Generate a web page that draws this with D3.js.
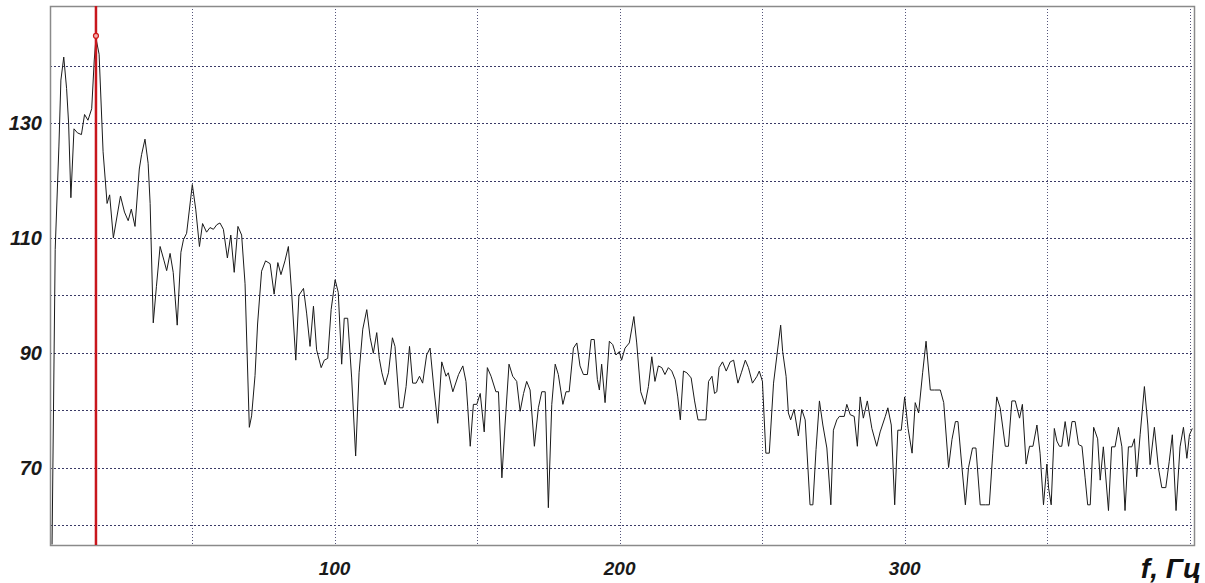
<!DOCTYPE html>
<html>
<head>
<meta charset="utf-8">
<script src="https://cdn.jsdelivr.net/npm/d3@7"></script>
<style>
  body { margin: 0; background: #fff; }
  svg { display: block; }
</style>
</head>
<body>
<div id="chart"></div>
<script>
// Canvas size
const width = 1205;
const height = 583;

// Spectrum vertices (Hz, level)
const freqs = [0.9, 2.0, 3.3, 4.0, 5.0, 6.0, 6.7, 7.5, 8.6, 9.8, 11.2, 12.3, 13.5, 14.8, 15.7, 16.3, 17.4, 18.8, 20.2, 21.1,
  22.4, 24.9, 26.3, 27.6, 28.7, 30.0, 31.5, 32.3, 33.5, 34.6, 35.3, 36.4, 37.5, 38.8, 40.2, 41.1, 42.3, 43.4, 44.8, 46.1,
  47.0, 48.1, 50.1, 51.3, 52.6, 53.7, 55.1, 56.3, 57.5, 58.7, 59.8, 61.0, 62.4, 63.6, 64.8, 66.1, 67.4, 68.6, 70.1, 70.9,
  72.1, 73.0, 74.4, 75.8, 77.4, 78.8, 80.1, 81.2, 82.6, 83.8, 85.0, 86.4, 87.5, 89.1, 90.2, 91.4, 92.6, 93.7, 95.3, 96.4,
  97.6, 98.8, 100.2, 101.3, 102.5, 103.4, 104.6, 106.0, 107.4, 108.6, 109.9, 111.3, 112.5, 113.6, 114.8, 115.7, 116.6, 117.7, 118.9, 120.3,
  121.2, 122.8, 124.0, 125.1, 126.3, 127.4, 128.6, 129.8, 130.9, 132.3, 133.5, 134.9, 136.2, 137.6, 139.1, 139.9, 141.5, 143.5, 145.0, 146.1,
  146.7, 147.6, 148.7, 149.9, 151.1, 152.5, 153.6, 154.9, 156.6, 157.5, 158.7, 159.8, 161.2, 162.5, 163.9, 165.1, 166.3, 167.4, 168.6, 170.1,
  171.5, 172.7, 173.9, 175.0, 176.2, 177.4, 178.5, 180.1, 181.2, 182.3, 183.8, 185.0, 186.1, 187.3, 188.7, 190.0, 191.1, 192.2, 192.9, 193.7,
  194.9, 196.4, 197.6, 198.7, 199.9, 200.7, 201.9, 203.4, 205.0, 206.0, 207.4, 208.9, 210.1, 211.3, 212.4, 213.6, 214.8, 215.9, 217.1, 218.3,
  219.5, 220.4, 221.3, 222.4, 223.6, 225.1, 226.3, 227.5, 228.9, 230.3, 231.2, 232.4, 233.3, 234.1, 234.9, 236.1, 237.4, 238.8, 240.0, 241.5,
  242.7, 244.1, 245.2, 246.6, 248.2, 249.0, 250.1, 251.3, 252.5, 254.0, 255.2, 256.5, 257.2, 258.4, 259.2, 260.0, 261.2, 262.7, 263.9, 265.1,
  266.8, 267.8, 268.9, 270.1, 271.3, 272.7, 274.1, 275.0, 276.2, 277.1, 278.8, 279.7, 280.9, 282.3, 283.4, 284.4, 285.5, 286.9, 288.5, 290.2,
  291.4, 293.2, 294.1, 295.3, 296.5, 297.6, 298.8, 300.0, 301.2, 302.6, 303.7, 304.9, 306.3, 307.5, 309.0, 310.5, 312.5, 313.7, 315.4, 316.6,
  317.8, 318.7, 320.1, 321.3, 322.4, 323.8, 325.0, 326.5, 328.3, 329.7, 330.9, 332.3, 333.5, 335.3, 336.4, 337.6, 338.8, 340.3, 341.3, 342.6,
  343.8, 345.0, 346.4, 347.5, 348.7, 349.9, 350.5, 351.4, 352.5, 353.4, 354.3, 355.1, 356.3, 357.5, 358.7, 359.8, 361.0, 362.2, 363.3, 364.2,
  365.1, 366.3, 367.7, 368.6, 369.7, 371.5, 372.6, 373.8, 375.0, 376.2, 377.3, 378.5, 379.7, 380.6, 381.4, 382.6, 384.1, 385.3, 386.1, 387.6,
  389.0, 390.2, 391.6, 392.8, 393.9, 395.2, 396.6, 397.8, 399.0, 399.9, 400.9];

const levels = [56.6, 108, 126, 137.5, 141.5, 136, 130, 117, 129, 128.3, 128, 131.5, 130.5, 132.5, 141, 144.8, 142, 125, 116, 117.5,
  110, 117.3, 114.5, 113, 115, 112, 122, 124.5, 127.2, 123, 116, 95.2, 101.5, 108.5, 106, 104.3, 107.3, 104, 94.8, 107.5,
  109.7, 110.8, 119.3, 115, 108.5, 112.5, 111, 111.8, 111.5, 112.3, 112.6, 111.5, 106.5, 110.5, 104, 112, 110.5, 102, 77, 79,
  86, 95, 104.2, 106, 105.5, 100.2, 105.7, 103.6, 106, 108.5, 100, 88.7, 100, 101.2, 96.9, 91.1, 98.1, 90.5, 87.4, 88.7,
  89, 97.5, 102.7, 100.5, 88, 96, 96, 85.6, 72, 86.5, 94.1, 97.5, 92.6, 89.9, 93.5, 89, 86.5, 84.4, 86.5, 92.6,
  91.1, 80.4, 80.4, 84.1, 91.1, 84.7, 84.7, 85.9, 84.7, 89.6, 90.8, 83.5, 77.7, 88.4, 85.9, 86.5, 83.2, 86.2, 87.7, 85,
  80.7, 73.7, 81, 81, 82.9, 76.2, 87.4, 85.9, 83.2, 83.2, 68.2, 77.4, 88, 85.9, 85, 79.8, 82.9, 85, 83.5, 73.7,
  80.4, 83.2, 83.2, 63, 81, 88, 86.2, 81, 83.2, 83.2, 90.8, 91.7, 87.7, 86.2, 86.2, 92.3, 92.3, 85.3, 83.5, 88,
  81.3, 92, 91.4, 89.6, 90.2, 88.7, 90.8, 91.7, 96.3, 91.7, 83.2, 81, 84.1, 89.3, 85, 87.7, 87.4, 86.2, 87.4, 86.8,
  85.3, 82.3, 78.3, 86.8, 86.5, 85.6, 81.6, 78.3, 78.3, 78.3, 85, 85.9, 82.9, 83.2, 87.4, 88.4, 86.8, 88.4, 88.7, 84.7,
  86.5, 88.7, 87.4, 84.7, 85.9, 86.8, 85, 72.5, 72.5, 84.7, 89.6, 94.8, 90.2, 85.9, 79.5, 78.3, 80.1, 75.5, 80.1, 78.3,
  63.5, 63.5, 73.1, 81.6, 77.4, 73.4, 63.5, 76.5, 78.3, 78.9, 78.9, 81, 79.2, 78.9, 73.7, 82.3, 78.6, 81.6, 76.8, 73.7,
  76.2, 78.9, 80.4, 77.4, 63.5, 76.5, 76.5, 82.3, 76.8, 72.5, 81.3, 79.5, 86.5, 92, 83.5, 83.5, 83.5, 81.3, 70, 74.9,
  78, 78, 70, 63.5, 70, 73.4, 73.4, 63.5, 63.5, 63.5, 72.5, 82.3, 80.4, 73.7, 73.7, 81.6, 81.6, 78.6, 81, 70.6,
  73.7, 73.7, 77.4, 72.5, 63.5, 70.6, 66.4, 63.5, 76.8, 74.6, 73.7, 73.7, 78, 73.7, 78, 78, 74, 73.7, 68.2, 63.5,
  63.5, 77, 75, 67.8, 73.6, 62.5, 73.6, 73.6, 77, 73.6, 62.5, 73.6, 73.6, 75, 68.4, 75.7, 84.1, 77.4, 70.5, 77,
  70, 66.5, 66.5, 71, 75.7, 62.5, 73.6, 77, 71.6, 75.7, 76.8];

// Axis ticks and grid
const yTickLabels = [130, 110, 90, 70];
const yGrid = [60, 70, 80, 90, 100, 110, 120, 130, 140];
const xTickLabels = [100, 200, 300];
const xGrid = [50, 100, 150, 200, 250, 300, 350, 400];

// Cursor (red marker line)
const cursorFreq = 16.3;
const cursorLevel = 145.2;

const plotLeft = 50, plotRight = 1194, plotTop = 6, plotBottom = 545;

let x = d3.scaleLinear().domain([0, 401.5]).range([49.5, plotRight]);
let y = d3.scaleLinear().domain([56.5, 150.4]).range([plotBottom, plotTop]);

let svg = d3.select("#chart").append("svg")
            .attr("width", width)
            .attr("height", height)

svg.append("defs").append("clipPath")
   .attr("id", "plot-clip")
   .append("rect")
   .attr("x", plotLeft)
   .attr("y", plotTop)
   .attr("width", plotRight - plotLeft)
   .attr("height", plotBottom - plotTop)

// Horizontal grid
svg.append("g")
   .selectAll("line")
   .data(yGrid)
   .enter()
   .append("line")
   .attr("x1", plotLeft)
   .attr("x2", plotRight)
   .attr("y1", function(d) { return Math.round(y(d)) + 0.5 })
   .attr("y2", function(d) { return Math.round(y(d)) + 0.5 })
   .style("stroke", "#3a3a66")
   .style("stroke-width", 1)
   .style("stroke-dasharray", "2,2")

// Vertical grid
svg.append("g")
   .selectAll("line")
   .data(xGrid)
   .enter()
   .append("line")
   .attr("x1", function(d) { return Math.round(x(d)) + 0.5 })
   .attr("x2", function(d) { return Math.round(x(d)) + 0.5 })
   .attr("y1", plotTop)
   .attr("y2", plotBottom)
   .style("stroke", "#55557a")
   .style("stroke-width", 1)
   .style("stroke-dasharray", "1,2")

// Frame
svg.append("rect")
   .attr("x", plotLeft + 0.5)
   .attr("y", plotTop + 0.5)
   .attr("width", plotRight - plotLeft)
   .attr("height", plotBottom - plotTop)
   .style("fill", "none")
   .style("stroke", "#8a8a8a")
   .style("stroke-width", 1.5)

// Spectrum line
let line = d3.line()
             .x(function(d) { return x(d[0]) })
             .y(function(d) { return y(d[1]) })

svg.append("path")
   .datum(d3.zip(freqs, levels))
   .attr("clip-path", "url(#plot-clip)")
   .attr("d", line)
   .style("fill", "none")
   .style("stroke", "#1a1a1a")
   .style("stroke-width", 1)

// Red cursor
svg.append("line")
   .attr("x1", x(cursorFreq))
   .attr("x2", x(cursorFreq))
   .attr("y1", plotTop)
   .attr("y2", plotBottom)
   .style("stroke", "#c8161d")
   .style("stroke-width", 2.5)

svg.append("circle")
   .attr("cx", x(cursorFreq))
   .attr("cy", y(cursorLevel))
   .attr("r", 2.5)
   .style("fill", "#f3b0b0")
   .style("stroke", "#d01818")
   .style("stroke-width", 1.2)

// Y tick labels
svg.append("g")
   .selectAll("text")
   .data(yTickLabels)
   .enter()
   .append("text")
   .attr("x", 42)
   .attr("y", function(d) { return y(d) + 7 })
   .attr("text-anchor", "end")
   .style("font-family", "'Liberation Sans', Arial, sans-serif")
   .style("font-weight", "bold")
   .style("font-style", "italic")
   .style("font-size", "20px")
   .style("fill", "#1a1a1a")
   .text(function(d) { return d })

// X tick labels
svg.append("g")
   .selectAll("text")
   .data(xTickLabels)
   .enter()
   .append("text")
   .attr("x", function(d) { return x(d) })
   .attr("y", 575)
   .attr("text-anchor", "middle")
   .style("font-family", "'Liberation Sans', Arial, sans-serif")
   .style("font-weight", "bold")
   .style("font-style", "italic")
   .style("font-size", "19px")
   .style("fill", "#1a1a1a")
   .text(function(d) { return d })

// Axis title
svg.append("text")
   .attr("x", 1201)
   .attr("y", 578)
   .attr("text-anchor", "end")
   .style("font-family", "'Liberation Sans', Arial, sans-serif")
   .style("font-weight", "bold")
   .style("font-style", "italic")
   .style("font-size", "28px")
   .style("fill", "#111")
   .text("f, Гц")
</script>
</body>
</html>
